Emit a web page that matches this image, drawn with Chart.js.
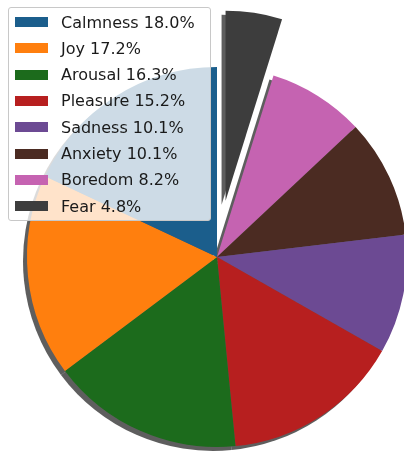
<!DOCTYPE html>
<html>
<head>
<meta charset="utf-8">
<script src="https://cdn.jsdelivr.net/npm/chart.js@4.4.1/dist/chart.umd.min.js"></script>
<style>
  body { margin: 0; background: #fff; }
  #wrap { position: relative; width: 404px; height: 452px; overflow: hidden; }
  #legend {
    position: absolute; left: 8px; top: 7px; width: 201px; height: 212px;
    background: rgba(255,255,255,0.78); border: 1px solid #c8c8c8; border-radius: 3px;
    font-family: "DejaVu Sans", sans-serif; font-size: 16px; color: #1a1a1a;
  }
  .item { position: absolute; left: 6px; height: 20px; display: flex; align-items: center; }
  .patch { width: 33px; height: 10px; margin-right: 13px; }
</style>
</head>
<body>
<div id="wrap">
  <canvas id="pie" width="404" height="452"></canvas>
  <div id="legend"></div>
</div>
<script>
// --- data, in legend order (counter-clockwise from 12 o'clock) ---
const emotions = ['Calmness', 'Joy', 'Arousal', 'Pleasure', 'Sadness', 'Anxiety', 'Boredom', 'Fear'];
const shares = [18.0, 17.2, 16.3, 15.2, 10.1, 10.1, 8.2, 4.8];
const colours = ['#1b5e8c', '#ff7f0e', '#1c6b1c', '#b71f1f', '#6c4a93', '#4b2b22', '#c563b1', '#3d3d3d'];

// slice pulled out of the pie
const explodeName = 'Fear';
const explodeFrac = 0.3;
const shadowColor = 'rgba(40,40,40,0.75)';

// chart.js goes clockwise, the original goes the other way -> reverse
const chartLabels = emotions.slice().reverse();
const chartValues = shares.slice().reverse();
const chartColours = colours.slice().reverse();

function explodeDist(arc, i) {
    return chartLabels[i] === explodeName ? explodeFrac * arc.outerRadius : 0;
}

// matplotlib style drop shadow under every wedge
const shadowPlugin = {
    id: 'pieShadow',
    beforeDatasetsDraw(chart) {
        const ctx = chart.ctx;
        const meta = chart.getDatasetMeta(0);
        ctx.save();
        ctx.fillStyle = shadowColor;
        meta.data.forEach((arc, i) => {
            const mid = (arc.startAngle + arc.endAngle) / 2;
            const d = explodeDist(arc, i);
            const cx = arc.x + Math.cos(mid) * d - 4;
            const cy = arc.y + Math.sin(mid) * d + 4;
            ctx.beginPath();
            ctx.moveTo(cx, cy);
            ctx.arc(cx, cy, arc.outerRadius, arc.startAngle, arc.endAngle);
            ctx.closePath();
            ctx.fill();
        });
        ctx.restore();
    }
};

// push the exploded wedge outwards along its middle angle
const explodePlugin = {
    id: 'explode',
    afterDatasetUpdate(chart, args) {
        const meta = chart.getDatasetMeta(args.index);
        meta.data.forEach((arc, i) => {
            if (arc._patched) return;
            const orig = arc.draw;
            arc.draw = function (ctx, area) {
                const mid = (this.startAngle + this.endAngle) / 2;
                const d = explodeDist(this, i);
                ctx.save();
                ctx.translate(Math.cos(mid) * d, Math.sin(mid) * d);
                orig.call(this, ctx, area);
                ctx.restore();
            };
            arc._patched = true;
        });
    }
};

const ctx = document.getElementById('pie').getContext('2d');
const pieChart = new Chart(ctx, {
    type: 'pie',
    data: {
        labels: chartLabels,
        datasets: [{
            data: chartValues,
            backgroundColor: chartColours,
            borderWidth: 0,
            radius: 190
        }]
    },
    options: {
        responsive: false,
        animation: false,
        events: [],
        layout: { padding: { left: 30, top: 62, right: 0, bottom: 0 } },
        plugins: {
            legend: { display: false },
            tooltip: { enabled: false }
        }
    },
    plugins: [shadowPlugin, explodePlugin]
});

// --- legend box on top of the pie (semi transparent like matplotlib) ---
const legend = document.getElementById('legend');
emotions.forEach((name, i) => {
    const row = document.createElement('div');
    row.className = 'item';
    row.style.top = (4 + i * 26.3) + 'px';
    row.innerHTML = `<span class="patch" style="background:${colours[i]}"></span><span>${name} ${shares[i].toFixed(1)}%</span>`;
    legend.appendChild(row);
});
</script>
</body>
</html>
